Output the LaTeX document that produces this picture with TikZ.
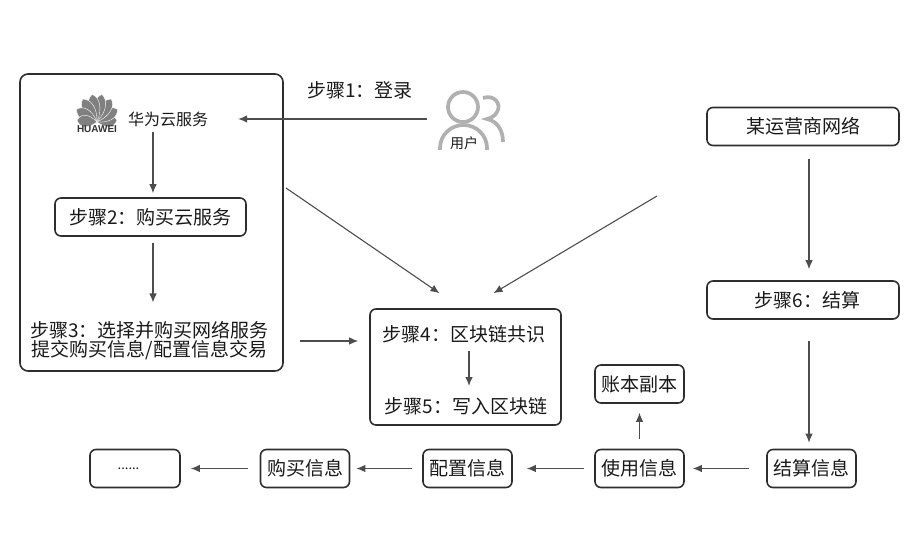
\documentclass[tikz,border=0pt]{standalone}
\usepackage{fontspec}
\setmainfont{Noto Sans CJK SC}
\newfontfamily\logofont{Liberation Sans}
\usetikzlibrary{arrows.meta}
\definecolor{linegray}{HTML}{4D4D4D}
\definecolor{boxgray}{HTML}{2E2E2E}
\definecolor{icongray}{HTML}{B0B0B0}
\definecolor{logogray}{HTML}{808080}
\tikzset{
  flow/.style={draw=linegray,line width=1.1pt,-{Latex[length=9pt,width=7.5pt]}},
  stepbox/.style={draw=boxgray,line width=1.6pt,rounded corners=6pt,inner sep=0pt,
    minimum height=38pt,minimum width=89pt,text=black!90,font=\fontsize{19}{22}\selectfont},
  widebox/.style={stepbox,minimum width=192pt},
  steptext/.style={inner sep=0pt,text=black!90,align=center,font=\fontsize{19}{19}\selectfont},
  usericon/.style={draw=icongray,line width=3.7pt},
  petal/.style={fill=logogray,draw=white,line width=0.4pt}
}
\begin{document}
\begin{tikzpicture}[x=1pt,y=-1pt]
    \useasboundingbox (0,0) rectangle (918,534);

    % left group
    \node[draw=boxgray,line width=1.6pt,rounded corners=8pt,minimum width=263pt,minimum height=297pt,inner sep=0pt] (cloudgroup) at (151.5,222.5) {};
    \node[steptext,font=\fontsize{16}{18}\selectfont] (cloud) at (168,119) {华为云服务};
    \node[widebox,minimum width=191pt] (buy) at (150.5,217) {步骤2：购买云服务};
    \node[steptext] (select) at (149.5,341) {步骤3：选择并购买网络服务\\提交购买信息/配置信息交易};

    % logo
    \foreach \ang/\len in {-85/20,-58/24,-32/27,-10/28,10/28,32/27,58/24,85/20}
      \draw[petal,rotate around={\ang:(97,122)}] (97,122) .. controls (89,122-\len*0.45) and (90,122-\len*0.85) .. (97,122-\len) .. controls (104,122-\len*0.85) and (105,122-\len*0.45) .. (97,122);
    \node[inner sep=0pt,text=black!80,font=\logofont\bfseries\fontsize{10}{12}\selectfont] (logo) at (97,129) {HUAWEI};

    % user
    \draw[usericon] (463,107) circle (15);
    \draw[usericon] (440,150) -- (440,148) arc (180:360:23.5 and 23) -- (487,150);
    \draw[usericon] (483,98) .. controls (494,94) and (502,104) .. (497,112) .. controls (495,116) and (491,118) .. (487,119) .. controls (497,121) and (503,130) .. (503,142);
    \node[steptext,fill=white,inner sep=1pt,font=\fontsize{14}{16}\selectfont] (user) at (464,143) {用户};
    \node[steptext] (login) at (360,90) {步骤1：登录};

    % block chain
    \node[draw=boxgray,line width=1.6pt,rounded corners=6pt,minimum width=191pt,minimum height=116pt,inner sep=0pt] (chain) at (465.5,367) {};
    \node[steptext] (consensus) at (464,334) {步骤4：区块链共识};
    \node[steptext] (write) at (466,406) {步骤5：写入区块链};

    % right column
    \node[widebox] (carrier) at (803,126.5) {某运营商网络};
    \node[widebox] (settle) at (803,300) {\hspace*{9pt}步骤6：结算};

    % bottom row
    \node[stepbox] (settleinfo) at (811.5,468.5) {结算信息};
    \node[stepbox] (useinfo) at (639.5,468.5) {使用信息};
    \node[stepbox] (configinfo) at (467.5,468.5) {配置信息};
    \node[stepbox] (buyinfo) at (305,468.5) {购买信息};
    \node[stepbox,minimum width=90pt,font=\fontsize{13}{16}\selectfont] (more) at (135,468.5) {\hspace*{-13pt}......};
    \node[stepbox] (ledger) at (639.5,384) {账本副本};

    % arrows
    \draw[flow,shorten <=22pt,shorten >=30pt] (user.west |- cloud) -- (cloud.east);
    \draw[flow,shorten <=5pt,shorten >=4pt] ([xshift=-15pt]cloud.south) -- ([xshift=2.5pt]buy.north);
    \draw[flow,shorten <=6pt,shorten >=19pt] ([xshift=2.5pt]buy.south) -- ([xshift=3.5pt]select.north);
    \draw[flow,shorten <=16pt,shorten >=11pt] (cloudgroup.east |- select) -- (chain.west |- select);
    \draw[flow,shorten <=2.5pt] ([yshift=36pt]cloudgroup.east) -- ([xshift=-26pt,yshift=15pt]chain.north);
    \draw[flow,shorten <=8pt] ([xshift=5pt]consensus.south) -- ([xshift=3pt,yshift=11pt]write.north);
    \coordinate (othernet) at (657,196);
    \draw[flow] (othernet) -- ([xshift=28pt,yshift=15pt]chain.north);
    \draw[flow,shorten <=13pt,shorten >=11pt] ([xshift=6pt]carrier.south) -- ([xshift=6pt]settle.north);
    \draw[flow,shorten <=21pt,shorten >=6pt] ([xshift=6pt]settle.south) -- ([xshift=-2.5pt]settleinfo.north);
    \draw[flow,shorten <=17pt,shorten >=8pt] (settleinfo.west) -- (useinfo.east);
    \draw[flow,shorten <=10pt,shorten >=14pt] (useinfo.west) -- (configinfo.east);
    \draw[flow,shorten <=10pt,shorten >=6pt] (configinfo.west) -- (buyinfo.east);
    \draw[flow,shorten <=12pt,shorten >=10pt] (buyinfo.west) -- (more.east);
    \draw[flow,shorten <=10pt,shorten >=9pt] (useinfo.north) -- (ledger.south);
\end{tikzpicture}
\end{document}
